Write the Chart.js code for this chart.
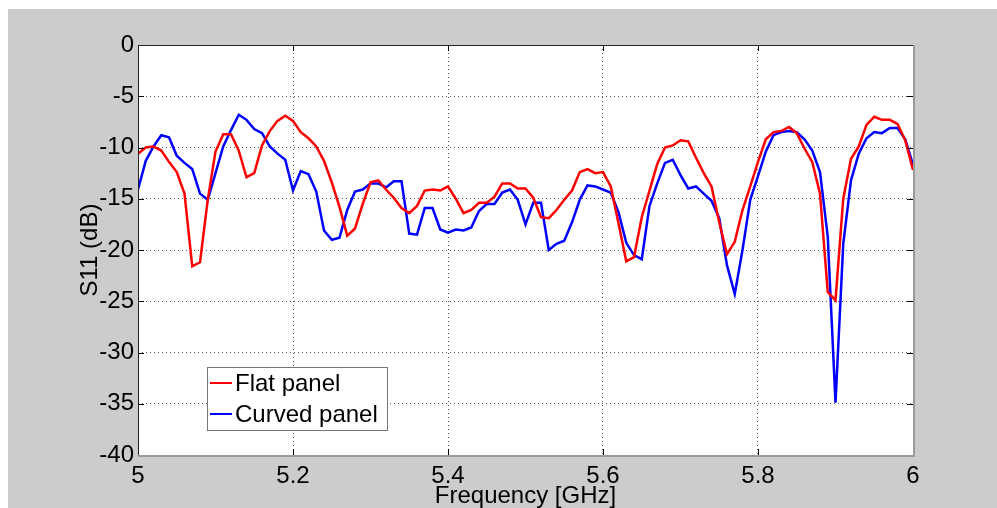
<!DOCTYPE html>
<html>
<head>
<meta charset="utf-8">
<script src="https://cdn.jsdelivr.net/npm/chart.js@4.4.1/dist/chart.umd.min.js"></script>
<style>
  html, body { margin: 0; padding: 0; background: #ffffff; }
  #frame { position: absolute; left: 8px; top: 9px; width: 989px; height: 499px; background: #cccccc; }
</style>
</head>
<body>
<div id="frame"><canvas id="s11"></canvas></div>
<script>
// ── S11 vs frequency, flat vs curved panel

const freqGHz = [
  5.00, 5.01, 5.02, 5.03, 5.04, 5.05, 5.06, 5.07, 5.08, 5.09,
  5.10, 5.11, 5.12, 5.13, 5.14, 5.15, 5.16, 5.17, 5.18, 5.19,
  5.20, 5.21, 5.22, 5.23, 5.24, 5.25, 5.26, 5.27, 5.28, 5.29,
  5.30, 5.31, 5.32, 5.33, 5.34, 5.35, 5.36, 5.37, 5.38, 5.39,
  5.40, 5.41, 5.42, 5.43, 5.44, 5.45, 5.46, 5.47, 5.48, 5.49,
  5.50, 5.51, 5.52, 5.53, 5.54, 5.55, 5.56, 5.57, 5.58, 5.59,
  5.60, 5.61, 5.62, 5.63, 5.64, 5.65, 5.66, 5.67, 5.68, 5.69,
  5.70, 5.71, 5.72, 5.73, 5.74, 5.75, 5.76, 5.77, 5.78, 5.79,
  5.80, 5.81, 5.82, 5.83, 5.84, 5.85, 5.86, 5.87, 5.88, 5.89,
  5.90, 5.91, 5.92, 5.93, 5.94, 5.95, 5.96, 5.97, 5.98, 5.99,
  6.00
];

const flatPanel = [
  -10.6, -10.0, -9.9, -10.3, -11.4, -12.4, -14.5, -21.6, -21.2, -15.1,
  -10.4, -8.7, -8.7, -10.3, -12.9, -12.5, -9.8, -8.4, -7.4, -6.9,
  -7.4, -8.5, -9.1, -9.9, -11.3, -13.4, -15.8, -18.6, -17.9, -15.5,
  -13.4, -13.2, -14.1, -14.9, -15.9, -16.4, -15.7, -14.2, -14.1, -14.2,
  -13.8, -15.0, -16.4, -16.1, -15.4, -15.4, -14.8, -13.5, -13.5, -14.0,
  -14.0, -14.9, -16.8, -16.9, -16.1, -15.1, -14.2, -12.4, -12.1, -12.5,
  -12.4, -13.8, -17.4, -21.1, -20.7, -16.8, -14.2, -11.6, -10.0, -9.8,
  -9.3, -9.4, -11.0, -12.5, -13.8, -17.3, -20.4, -19.2, -16.1, -13.8,
  -11.4, -9.2, -8.5, -8.4, -8.0, -8.6, -10.1, -11.4, -14.5, -24.1,
  -24.9, -15.0, -11.1, -9.9, -7.8, -7.0, -7.3, -7.3, -7.7, -9.3,
  -12.2
];

const curvedPanel = [
  -14.1, -11.3, -9.9, -8.8, -9.0, -10.8, -11.5, -12.1, -14.5, -15.1,
  -12.5, -9.9, -8.3, -6.8, -7.3, -8.2, -8.6, -9.9, -10.6, -11.2,
  -14.2, -12.3, -12.6, -14.3, -18.1, -19.0, -18.8, -16.1, -14.3, -14.1,
  -13.5, -13.5, -13.9, -13.3, -13.3, -18.4, -18.5, -15.9, -15.9, -18.0,
  -18.3, -18.0, -18.1, -17.8, -16.2, -15.5, -15.5, -14.4, -14.1, -15.1,
  -17.5, -15.4, -15.4, -20.0, -19.4, -19.1, -17.3, -15.1, -13.7, -13.8,
  -14.1, -14.4, -16.3, -19.3, -20.5, -20.9, -15.7, -13.5, -11.5, -11.2,
  -12.7, -14.0, -13.8, -14.5, -15.2, -16.9, -21.5, -24.3, -20.0, -15.1,
  -12.8, -10.4, -8.8, -8.5, -8.4, -8.5, -9.2, -10.3, -12.4, -18.7,
  -34.9, -19.4, -13.2, -10.6, -9.1, -8.5, -8.6, -8.1, -8.1, -9.2,
  -11.7
];

const seriesNames = ['Flat panel', 'Curved panel'];
const xTickLabels = ['5', '5.2', '5.4', '5.6', '5.8', '6'];
const yTickLabels = ['0', '-5', '-10', '-15', '-20', '-25', '-30', '-35', '-40'];

const textFont = "'Liberation Sans', Arial, sans-serif";

// ── PLOT AREA: white fill, MATLAB style box + inner ticks
const axesBox = {
  id: 'axesBox',
  beforeDraw(chart) {
    const { ctx, chartArea: a } = chart;
    ctx.save();
    ctx.fillStyle = '#ffffff';
    ctx.fillRect(a.left, a.top, a.right - a.left, a.bottom - a.top);
    ctx.restore();
  },
  afterDraw(chart) {
    const { ctx, chartArea: a, scales } = chart;
    ctx.save();
    ctx.lineWidth = 1;
    ctx.strokeStyle = '#000000';
    ctx.beginPath();
    scales.x.ticks.forEach(t => {
      const px = Math.round(scales.x.getPixelForValue(t.value)) + 0.5;
      ctx.moveTo(px, a.bottom); ctx.lineTo(px, a.bottom - 6);
      ctx.moveTo(px, a.top); ctx.lineTo(px, a.top + 6);
    });
    scales.y.ticks.forEach(t => {
      const py = Math.round(scales.y.getPixelForValue(t.value)) + 0.5;
      ctx.moveTo(a.left, py); ctx.lineTo(a.left + 6, py);
      ctx.moveTo(a.right, py); ctx.lineTo(a.right - 6, py);
    });
    ctx.stroke();
    // box
    ctx.strokeStyle = '#222222';
    ctx.beginPath();
    ctx.moveTo(a.left + 0.5, a.bottom); ctx.lineTo(a.left + 0.5, a.top + 0.5); ctx.lineTo(a.right, a.top + 0.5);
    ctx.stroke();
    ctx.strokeStyle = '#9a9a9a';
    ctx.lineWidth = 2;
    ctx.beginPath();
    ctx.moveTo(a.right + 1, a.top); ctx.lineTo(a.right + 1, a.bottom + 1); ctx.lineTo(a.left, a.bottom + 1);
    ctx.stroke();
    ctx.restore();
  }
};

// ── LEGEND inside the axes, lower left
const boxLegend = {
  id: 'boxLegend',
  afterDatasetsDraw(chart) {
    const { ctx, chartArea: a } = chart;
    const x = a.left + 69, y = a.top + 322, w = 180, h = 63;
    ctx.save();
    ctx.fillStyle = '#ffffff';
    ctx.fillRect(x, y, w, h);
    ctx.strokeStyle = '#777777';
    ctx.lineWidth = 1;
    ctx.strokeRect(x + 0.5, y + 0.5, w, h);
    ctx.font = '24px ' + textFont;
    ctx.textBaseline = 'middle';
    ctx.fillStyle = '#000000';
    chart.data.datasets.forEach((ds, i) => {
      const cy = y + 16 + i * 31;
      ctx.strokeStyle = ds.borderColor;
      ctx.lineWidth = 2;
      ctx.beginPath();
      ctx.moveTo(x + 3, cy); ctx.lineTo(x + 25, cy);
      ctx.stroke();
      ctx.fillText(ds.label, x + 28, cy + 1);
    });
    ctx.restore();
  }
};

const lineStyle = (color) => ({
  borderColor: color,
  backgroundColor: color,
  borderWidth: 2.5,
  pointRadius: 0,
  tension: 0,
  fill: false
});

const pts = ys => freqGHz.map((f, i) => ({ x: f, y: ys[i] }));

new Chart(document.getElementById('s11'), {
  type: 'line',
  data: {
    datasets: [
      { label: seriesNames[0], data: pts(flatPanel), ...lineStyle('#ff0000') },
      { label: seriesNames[1], data: pts(curvedPanel), ...lineStyle('#0000ff') }
    ]
  },
  options: {
    animation: false,
    responsive: true,
    maintainAspectRatio: false,
    layout: { padding: { top: 36, right: 84, left: 0, bottom: 0 } },
    plugins: { legend: { display: false }, tooltip: { enabled: false } },
    scales: {
      x: {
        type: 'linear',
        min: 5,
        max: 6,
        afterFit: s => { s.height = 53; },
        afterBuildTicks: s => { s.ticks = xTickLabels.map(v => ({ value: parseFloat(v) })); },
        grid: { color: '#555555', lineWidth: 1, drawTicks: false },
        border: { display: false, dash: [1, 3] },
        ticks: {
          color: '#000000',
          padding: 7,
          maxRotation: 0,
          font: { family: textFont, size: 24 },
          callback: (v, i) => xTickLabels[i]
        },
        title: {
          display: true,
          text: 'Frequency [GHz]',
          color: '#000000',
          font: { family: textFont, size: 24, lineHeight: 1 },
          padding: { top: 0, bottom: 0 }
        }
      },
      y: {
        min: -40,
        max: 0,
        afterFit: s => { s.width = 130; },
        afterBuildTicks: s => { s.ticks = yTickLabels.map(v => ({ value: parseFloat(v) })); },
        grid: { color: '#555555', lineWidth: 1, drawTicks: false },
        border: { display: false, dash: [1, 3] },
        ticks: {
          color: '#000000',
          padding: 4,
          font: { family: textFont, size: 24 },
          callback: (v, i) => yTickLabels[i]
        },
        title: {
          display: true,
          text: 'S11 (dB)',
          color: '#000000',
          font: { family: textFont, size: 24, lineHeight: 1 },
          padding: { top: 70, bottom: 0 }
        }
      }
    }
  },
  plugins: [axesBox, boxLegend]
});
</script>
</body>
</html>
